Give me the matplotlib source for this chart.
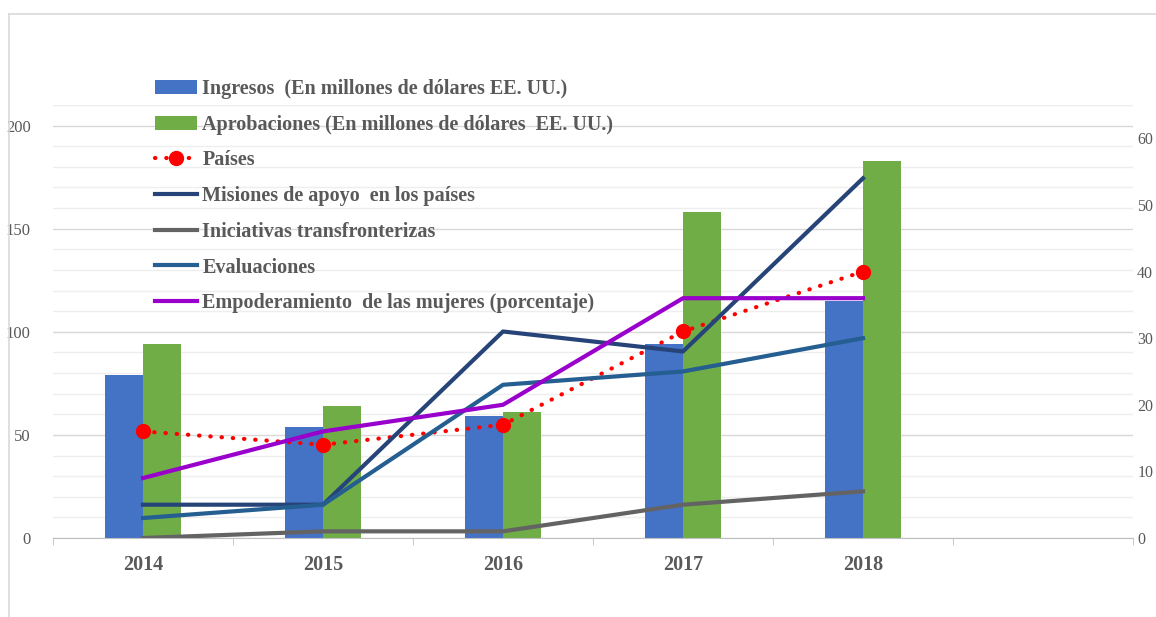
import numpy as np
import matplotlib.pyplot as plt
from matplotlib.lines import Line2D

# Categories (sixth slot is empty in the original chart)
years = ['2014', '2015', '2016', '2017', '2018', '']

# Bars, left axis (millions USD)
ingresos = [79, 54, 59, 94, 115]
aprobaciones = [94, 64, 61, 158, 183]

# Lines, right axis
paises = [16, 14, 17, 31, 40]
misiones = [5, 5, 31, 28, 54]
iniciativas = [0, 1, 1, 5, 7]
evaluaciones = [3, 5, 23, 25, 30]
empoderamiento = [9, 16, 20, 36, 36]

plt.rcParams['font.family'] = ['Liberation Serif', 'DejaVu Serif']
txt = '#595959'

fig = plt.figure(figsize=(11.56, 6.17), dpi=100)
ax = fig.add_axes([53/1156, 1-538/617, (1133-53)/1156, (538-105)/617])
ax2 = ax.twinx()

x = np.arange(len(ingresos))
w = 0.21
b1 = ax.bar(x - w/2, ingresos, w, color='#4472C4', label='Ingresos  (En millones de dólares EE. UU.)', zorder=2)
b2 = ax.bar(x + w/2, aprobaciones, w, color='#70AD47', label='Aprobaciones (En millones de dólares  EE. UU.)', zorder=2)

l1, = ax2.plot(x, paises, color='#FF0000', lw=3, linestyle=(0, (0.1, 2.6)), dash_capstyle='round',
               marker='o', markersize=10, label='Países')
l2, = ax2.plot(x, misiones, color='#264478', lw=3, label='Misiones de apoyo  en los países')
l3, = ax2.plot(x, iniciativas, color='#636363', lw=3, label='Iniciativas transfronterizas')
l4, = ax2.plot(x, evaluaciones, color='#255E91', lw=3, label='Evaluaciones')
l5, = ax2.plot(x, empoderamiento, color='#9900CC', lw=3, label='Empoderamiento  de las mujeres (porcentaje)')

ax.set_xlim(-0.5, len(years) - 0.5)
ax.set_ylim(0, 210)
ax2.set_ylim(0, 65)

ax.set_xticks(np.arange(len(years)))
ax.set_xticklabels(years, fontsize=14.5, fontweight='bold', color=txt)
ax.set_xticks(np.arange(len(years) + 1) - 0.5, minor=True)
ax.tick_params(axis='x', which='major', length=0, pad=12)
ax.tick_params(axis='x', which='minor', length=5, color='#BFBFBF')

ax.set_yticks(np.arange(0, 201, 50))
ax.set_yticks(np.arange(0, 211, 10), minor=True)
ax.tick_params(axis='y', which='both', length=0, labelsize=12, labelcolor=txt, pad=16)
ax.grid(axis='y', which='minor', color='#EEEEEE', lw=1, zorder=0)
ax.grid(axis='y', which='major', color='#D9D9D9', lw=1, zorder=0)
ax.set_axisbelow(True)

ax2.set_yticks(np.arange(0, 61, 10))
ax2.tick_params(axis='y', length=0, labelsize=11.5, labelcolor=txt, pad=3)

for a in (ax, ax2):
    for s in ('top', 'left', 'right'):
        a.spines[s].set_visible(False)
ax.spines['bottom'].set_color('#BFBFBF')
ax2.spines['bottom'].set_visible(False)

handles = [b1, b2, l1, l2, l3, l4, l5]
fig.legend(handles, [h.get_label() for h in handles],
           loc='upper left', bbox_to_anchor=(155/1156, 1-79/617), frameon=False,
           prop={'size': 14.5, 'weight': 'bold'}, labelcolor=txt,
           borderpad=0, borderaxespad=0, handlelength=2.1, handletextpad=0.25,
           labelspacing=0.78)

# outer chart frame
fig.add_artist(Line2D([9/1156, 9/1156], [0, 1-14/617], color='#D9D9D9', lw=1.2))
fig.add_artist(Line2D([9/1156, 1], [1-14/617, 1-14/617], color='#D9D9D9', lw=1.2))

fig.savefig('out.png', dpi=100)
